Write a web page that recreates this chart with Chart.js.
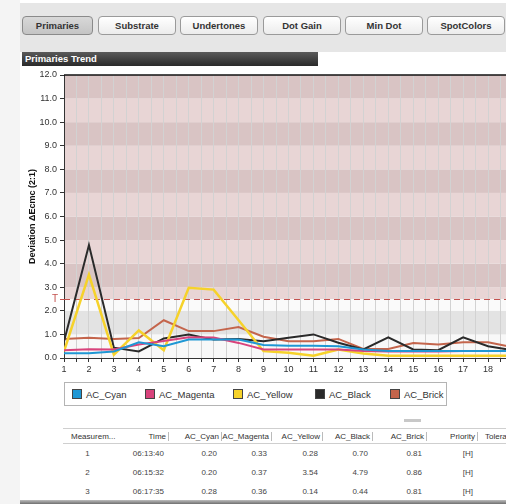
<!DOCTYPE html>
<html>
<head>
<meta charset="utf-8">
<script src="https://cdn.jsdelivr.net/npm/chart.js@4.4.0/dist/chart.umd.min.js"></script>
<style>
  body { margin: 0; width: 506px; height: 504px; overflow: hidden; position: relative;
         background: #f4f4f4; font-family: "Liberation Sans", Arial, sans-serif; }
  #panel { position: absolute; left: 20px; top: 0; width: 486px; height: 504px; background: #fff; }
  #toolbar { position: absolute; left: 20px; top: 3px; width: 486px; height: 49px; background: #e6e6e6; }
  .btn { position: absolute; top: 16px; height: 17px; border: 1px solid #9a9a9a; border-radius: 4px;
         background: linear-gradient(#ffffff, #ececec); font: bold 9.5px "Liberation Sans", Arial, sans-serif;
         color: #333; text-align: center; line-height: 17px; box-sizing: content-box; }
  .btn.on { background: linear-gradient(#d8d8d8, #c4c4c4); border-color: #8a8a8a; }
  #titlebar { position: absolute; left: 22px; top: 52px; width: 296px; height: 14px;
              background: linear-gradient(#5a5a5a, #2a2a2a); color: #fff;
              font: bold 9.5px "Liberation Sans", Arial, sans-serif; line-height: 14px; padding-left: 3px; box-sizing: border-box; }
  #trend { position: absolute; left: 20px; top: 66px; }
  #legend { position: absolute; left: 64px; top: 382px; width: 381px; height: 22px; border: 1px solid #b4b4b4;
            background: #fff; font-size: 9.5px; color: #333; }
  .item { position: absolute; top: 6px; line-height: 10px; white-space: nowrap; }
  .item i { display: inline-block; width: 8px; height: 8px; border: 1px solid #444; vertical-align: -1px; margin-right: 4px; }
  #grip { position: absolute; left: 404px; top: 419px; width: 17px; height: 3px; background: #c8c8c8; }
  #grid { position: absolute; left: 63px; top: 428px; width: 475px; border-collapse: collapse; table-layout: fixed;
          font-size: 8px; color: #444; }
  #grid th { font-weight: normal; color: #333; height: 14px; border-top: 1px solid #cfcfcf; border-bottom: 1px solid #cfcfcf;
             text-align: right; padding: 0; white-space: nowrap; overflow: hidden; }
  #grid th span { border-right: 1px solid #bbb; padding-right: 2px; }
  #grid td { height: 19px; text-align: right; padding: 0 5px 0 0; white-space: nowrap; }
  #grid .c { text-align: center; }
  #shadow { position: absolute; left: 20px; top: 500px; width: 486px; height: 4px; background: linear-gradient(#bdbdbd, #6f6f6f); }
</style>
</head>
<body>
<div id="panel"></div>
<div id="toolbar"></div>
<div class="btn on" style="left:22px;width:69px;">Primaries</div>
<div class="btn" style="left:98px;width:76px;">Substrate</div>
<div class="btn" style="left:180px;width:76px;">Undertones</div>
<div class="btn" style="left:263px;width:76px;">Dot Gain</div>
<div class="btn" style="left:345px;width:76px;">Min Dot</div>
<div class="btn" style="left:427px;width:76px;">SpotColors</div>
<div id="titlebar">Primaries Trend</div>
<canvas id="trend" width="500" height="312"></canvas>
<div id="legend"></div>
<div id="grip"></div>
<table id="grid">
  <colgroup>
    <col style="width:54px"><col style="width:52px"><col style="width:53px"><col style="width:50px">
    <col style="width:51px"><col style="width:50px"><col style="width:54px"><col style="width:51px"><col style="width:60px">
  </colgroup>
  <thead><tr id="head"></tr></thead>
  <tbody id="rows"></tbody>
</table>
<div id="shadow"></div>

<script>
// measurement numbers along the x axis
const measurementNo = [1, 2, 3, 4, 5, 6, 7, 8, 9, 10, 11, 12, 13, 14, 15, 16, 17, 18, 19];

// deviation dEcmc per primary
const acCyan    = [0.20, 0.20, 0.28, 0.67, 0.50, 0.78, 0.78, 0.78, 0.55, 0.52, 0.52, 0.50, 0.36, 0.30, 0.30, 0.30, 0.30, 0.30, 0.30];
const acMagenta = [0.33, 0.37, 0.36, 0.57, 0.72, 0.88, 0.87, 0.64, 0.36, 0.36, 0.36, 0.36, 0.30, 0.28, 0.28, 0.28, 0.30, 0.30, 0.30];
const acYellow  = [0.28, 3.54, 0.14, 1.17, 0.33, 2.98, 2.90, 1.60, 0.29, 0.22, 0.10, 0.36, 0.19, 0.10, 0.10, 0.10, 0.10, 0.10, 0.10];
const acBlack   = [0.70, 4.79, 0.44, 0.28, 0.83, 1.00, 0.78, 0.81, 0.71, 0.86, 1.00, 0.65, 0.36, 0.88, 0.36, 0.33, 0.88, 0.50, 0.33];
const acBrick   = [0.81, 0.86, 0.81, 0.85, 1.60, 1.14, 1.14, 1.31, 0.90, 0.71, 0.71, 0.81, 0.38, 0.38, 0.64, 0.57, 0.67, 0.67, 0.45];

const seriesNames = ['AC_Cyan', 'AC_Magenta', 'AC_Yellow', 'AC_Black', 'AC_Brick'];
const tolerance = 2.5;

// table below the chart
const tableHead = ['Measurem...', 'Time', 'AC_Cyan', 'AC_Magenta', 'AC_Yellow', 'AC_Black', 'AC_Brick', 'Priority', 'Tolerance'];
const tableTimes = ['06:13:40', '06:15:32', '06:17:35'];
const tablePriority = ['[H]', '[H]', '[H]'];

const colors = ['#1f97d4', '#d8437c', '#f6d22a', '#2a2a2a', '#c4654c'];
const widths = [2, 2, 2.5, 2, 2];
const allSeries = [acCyan, acMagenta, acYellow, acBlack, acBrick];

// background zones (value ranges)
const zones = [
    [0, 1, '#f8f8f8'], [1, 2, '#e3e3e3'], [2, 2.5, '#fafafa'], [2.5, 3, '#e8d5d5'],
    [3, 4, '#d9c4c4'], [4, 5, '#e8d5d5'], [5, 6, '#d9c4c4'], [6, 7, '#e8d5d5'], [7, 8, '#d9c4c4'],
    [8, 9, '#e8d5d5'], [9, 10, '#d9c4c4'], [10, 11, '#e8d5d5'], [11, 12, '#d9c4c4']
];

const zonePlugin = {
    id: 'zones',
    beforeDraw(chart) {
        const { ctx, chartArea: a, scales: { y } } = chart;
        ctx.save();
        zones.forEach(z => {
            const top = y.getPixelForValue(z[1]);
            const bottom = y.getPixelForValue(z[0]);
            ctx.fillStyle = z[2];
            ctx.fillRect(a.left, top, a.right - a.left, bottom - top);
        });
        ctx.restore();
    },
    beforeDatasetsDraw(chart) {
        const { ctx, chartArea: a, scales: { y } } = chart;
        const ty = Math.round(y.getPixelForValue(tolerance)) + 0.5;
        ctx.save();
        ctx.strokeStyle = '#c4524f';
        ctx.lineWidth = 1.2;
        ctx.setLineDash([6, 4]);
        ctx.beginPath();
        ctx.moveTo(a.left, ty);
        ctx.lineTo(a.right, ty);
        ctx.stroke();
        ctx.restore();
    },
    afterDraw(chart) {
        const { ctx, chartArea: a, scales: { y } } = chart;
        const ty = Math.round(y.getPixelForValue(tolerance)) + 0.5;
        ctx.save();
        // T marker on the y axis
        ctx.strokeStyle = '#c4524f';
        ctx.lineWidth = 1;
        ctx.beginPath();
        ctx.moveTo(a.left - 4, ty);
        ctx.lineTo(a.left, ty);
        ctx.stroke();
        ctx.fillStyle = '#c4524f';
        ctx.font = '10px "Liberation Sans", Arial, sans-serif';
        ctx.textAlign = 'right';
        ctx.textBaseline = 'middle';
        ctx.fillText('T', a.left - 6, ty);
        // top border
        ctx.strokeStyle = '#111';
        ctx.lineWidth = 1.5;
        ctx.beginPath();
        ctx.moveTo(a.left, a.top);
        ctx.lineTo(a.right, a.top);
        ctx.stroke();
        ctx.restore();
    }
};

new Chart(document.getElementById('trend').getContext('2d'), {
    type: 'line',
    data: {
        datasets: allSeries.map((s, i) => ({
            label: seriesNames[i],
            data: measurementNo.map((m, j) => ({ x: m, y: s[j] })),
            borderColor: colors[i],
            backgroundColor: colors[i],
            borderWidth: widths[i],
            pointRadius: 0,
            tension: 0,
            fill: false
        }))
    },
    options: {
        responsive: false,
        animation: false,
        layout: { padding: { top: 9, right: 2.4, bottom: 4, left: 0 } },
        plugins: { legend: { display: false }, tooltip: { enabled: false } },
        scales: {
            x: {
                type: 'linear',
                min: 1,
                max: 19,
                afterFit(scale) { scale.height = 16; },
                ticks: {
                    stepSize: 0.5,
                    autoSkip: false,
                    maxRotation: 0,
                    maxTicksLimit: 100,
                    padding: 2,
                    color: '#333',
                    font: { family: '"Liberation Sans", Arial, sans-serif', size: 9 },
                    callback: v => Number.isInteger(v) ? String(v) : ''
                },
                grid: { color: '#d2d2d2', tickColor: '#333', tickLength: 4, lineWidth: 1 },
                border: { color: '#333', width: 1 }
            },
            y: {
                min: 0,
                max: 12,
                afterFit(scale) { scale.width = 44; },
                ticks: {
                    stepSize: 1,
                    padding: 3,
                    color: '#333',
                    font: { family: '"Liberation Sans", Arial, sans-serif', size: 9 },
                    callback: v => v.toFixed(1)
                },
                grid: { drawOnChartArea: false, tickColor: '#333', tickLength: 4 },
                border: { color: '#333', width: 1 },
                title: {
                    display: true,
                    text: 'Deviation \u0394Ecmc (2:1)',
                    color: '#111',
                    padding: { top: 7, bottom: 0 },
                    font: { family: '"Liberation Sans", Arial, sans-serif', size: 9, weight: 'bold' }
                }
            }
        }
    },
    plugins: [zonePlugin]
});

// legend
const legendX = [7, 80, 168, 250, 325];
const legend = document.getElementById('legend');
seriesNames.forEach((n, i) => {
    const d = document.createElement('div');
    d.className = 'item';
    d.style.left = legendX[i] + 'px';
    d.innerHTML = '<i style="background:' + colors[i] + '"></i>' + n;
    legend.appendChild(d);
});

// table
const head = document.getElementById('head');
tableHead.forEach((h, i) => {
    const th = document.createElement('th');
    if (i === 0) { th.style.textAlign = 'left'; th.style.paddingLeft = '8px'; }
    th.innerHTML = i < tableHead.length - 1 ? '<span>' + h + '</span>' : h;
    if (i === tableHead.length - 1) { th.style.textAlign = 'left'; th.style.paddingLeft = '7px'; }
    head.appendChild(th);
});
const rows = document.getElementById('rows');
tableTimes.forEach((t, r) => {
    const tr = document.createElement('tr');
    const cells = [measurementNo[r], t, acCyan[r].toFixed(2), acMagenta[r].toFixed(2), acYellow[r].toFixed(2),
                   acBlack[r].toFixed(2), acBrick[r].toFixed(2), tablePriority[r], ''];
    cells.forEach((c, i) => {
        const td = document.createElement('td');
        td.textContent = c;
        if (i === 0) td.className = 'c';
        tr.appendChild(td);
    });
    rows.appendChild(tr);
});
</script>
</body>
</html>
